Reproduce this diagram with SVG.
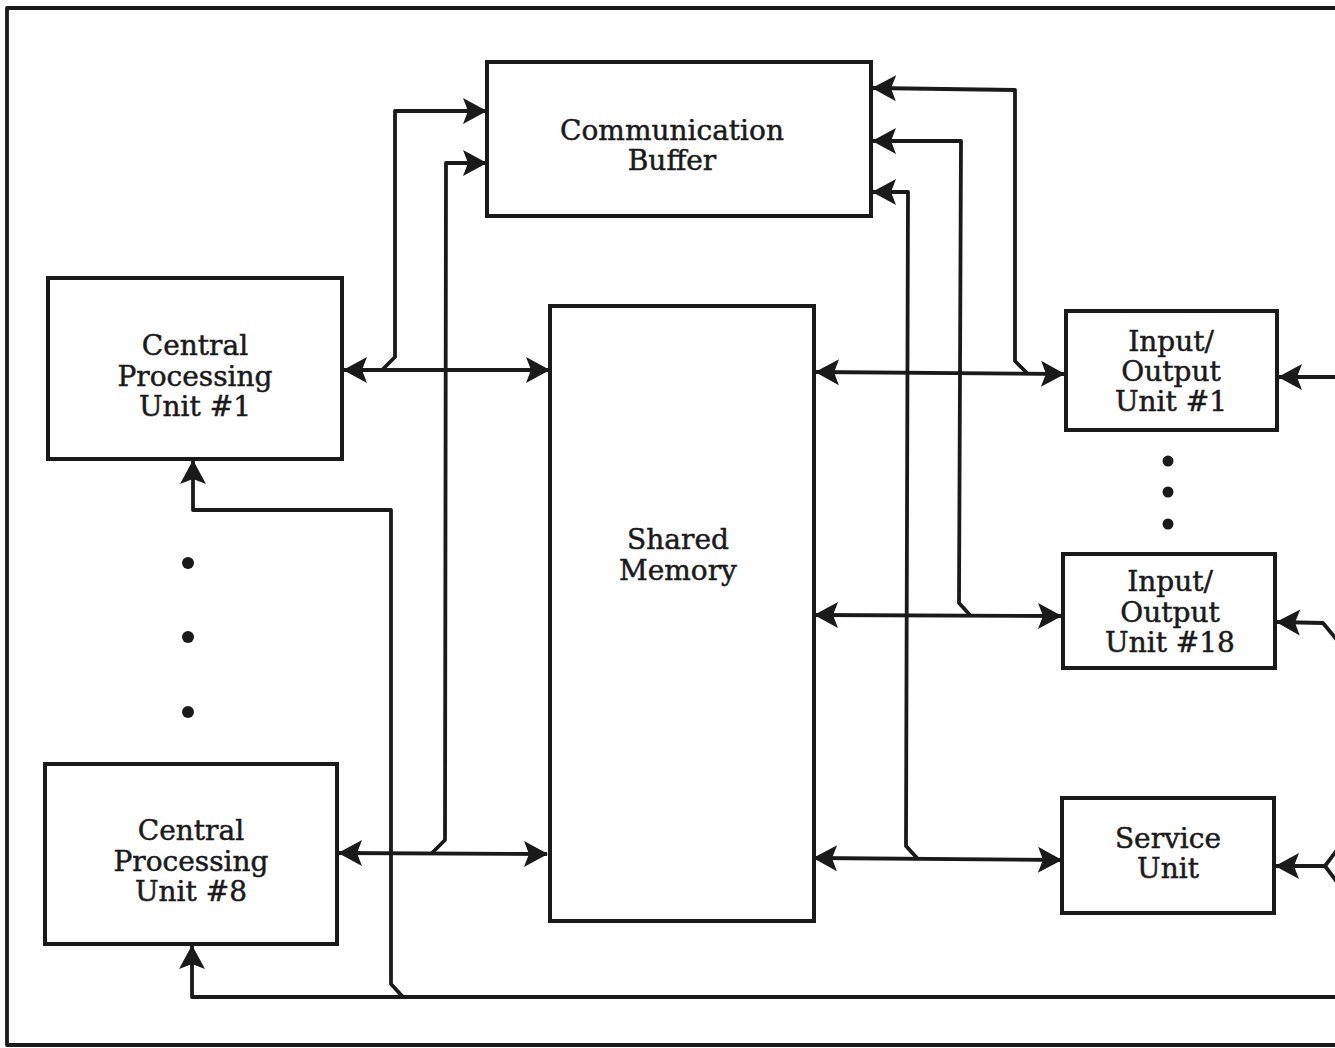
<svg xmlns="http://www.w3.org/2000/svg" width="1335" height="1048" viewBox="0 0 1335 1048">
<style>
.box{fill:#fff;stroke:#1a1a1a;stroke-width:4}
.ln{fill:none;stroke:#1a1a1a;stroke-width:3.8;stroke-linejoin:round}
.t{font-family:"DejaVu Serif","Liberation Serif",serif;font-size:28px;fill:#1a1a1a;stroke:#1a1a1a;stroke-width:0.5;text-anchor:middle}
.dot{fill:#1a1a1a}
</style>
<defs>
<marker id="ah" markerUnits="userSpaceOnUse" markerWidth="32" markerHeight="32" viewBox="-28 -16 32 32" refX="0" refY="0" orient="auto-start-reverse">
<path d="M1 0 L-23 -13 L-18 0 L-23 13 Z" fill="#1a1a1a"/>
</marker>
</defs>
<rect x="0" y="0" width="1335" height="1048" fill="#fff"/>
<path class="ln" d="M1335 8 L7 8 L7 1045 L1335 1045" stroke-width="2.5"/>
<g id="connectors">
<path class="ln" d="M344 370 L549 370" marker-start="url(#ah)" marker-end="url(#ah)"/>
<path class="ln" d="M382 370 L395 357 L395 111 L486 111" marker-end="url(#ah)"/>
<path class="ln" d="M432 853 L445 840 L446 163 L486 163" marker-end="url(#ah)"/>
<path class="ln" d="M339 853 L547 854" marker-start="url(#ah)" marker-end="url(#ah)"/>
<path class="ln" d="M1335 997 L192 997 L192 946" marker-end="url(#ah)"/>
<path class="ln" d="M403 997 L391 984 L391 510 L193 510 L193 461" marker-end="url(#ah)"/>
<path class="ln" d="M816 372 L1064 374" marker-start="url(#ah)" marker-end="url(#ah)"/>
<path class="ln" d="M1027 373 L1015 361 L1015 90 L873 88" marker-end="url(#ah)"/>
<path class="ln" d="M815 615 L1061 616" marker-start="url(#ah)" marker-end="url(#ah)"/>
<path class="ln" d="M970 615 L959 603 L961 141 L873 141" marker-end="url(#ah)"/>
<path class="ln" d="M814 858 L1061 860" marker-start="url(#ah)" marker-end="url(#ah)"/>
<path class="ln" d="M917 858 L906 846 L908 192 L873 192" marker-end="url(#ah)"/>
<path class="ln" d="M1335 377 L1279 377" marker-end="url(#ah)"/>
<path class="ln" d="M1337 640 L1323 623 L1277 622" marker-end="url(#ah)"/>
<path class="ln" d="M1337 850 L1325 866 L1337 882"/>
<path class="ln" d="M1325 866 L1276 866" marker-end="url(#ah)"/>
</g>
<g id="comm-buffer">
<rect class="box" x="487" y="62" width="384" height="154"/>
<text class="t" x="672" y="140" font-size="30">Communication</text>
<text class="t" x="672" y="170" font-size="30">Buffer</text>
</g>
<g id="cpu1">
<rect class="box" x="48" y="278" width="294" height="181"/>
<text class="t" x="195" y="355">Central</text>
<text class="t" x="195" y="386">Processing</text>
<text class="t" x="195" y="416">Unit #1</text>
</g>
<g id="cpu8">
<rect class="box" x="45" y="764" width="292" height="180"/>
<text class="t" x="191" y="840">Central</text>
<text class="t" x="191" y="871">Processing</text>
<text class="t" x="191" y="901">Unit #8</text>
</g>
<g id="shared-memory">
<rect class="box" x="550" y="306" width="264" height="615"/>
<text class="t" x="678" y="549">Shared</text>
<text class="t" x="678" y="580">Memory</text>
</g>
<g id="io1">
<rect class="box" x="1066" y="311" width="211" height="119"/>
<text class="t" x="1171" y="351">Input/</text>
<text class="t" x="1171" y="381">Output</text>
<text class="t" x="1171" y="411">Unit #1</text>
</g>
<g id="io18">
<rect class="box" x="1063" y="554" width="212" height="114"/>
<text class="t" x="1170" y="591">Input/</text>
<text class="t" x="1170" y="622">Output</text>
<text class="t" x="1170" y="652">Unit #18</text>
</g>
<g id="service-unit">
<rect class="box" x="1062" y="798" width="212" height="115"/>
<text class="t" x="1168" y="848">Service</text>
<text class="t" x="1168" y="878">Unit</text>
</g>
<g id="ellipsis-cpu">
<circle class="dot" cx="188" cy="563" r="6"/>
<circle class="dot" cx="188" cy="637" r="6"/>
<circle class="dot" cx="188" cy="712" r="6"/>
</g>
<g id="ellipsis-io">
<circle class="dot" cx="1168" cy="461" r="5.5"/>
<circle class="dot" cx="1168" cy="492" r="5.5"/>
<circle class="dot" cx="1168" cy="524" r="5.5"/>
</g>
</svg>
